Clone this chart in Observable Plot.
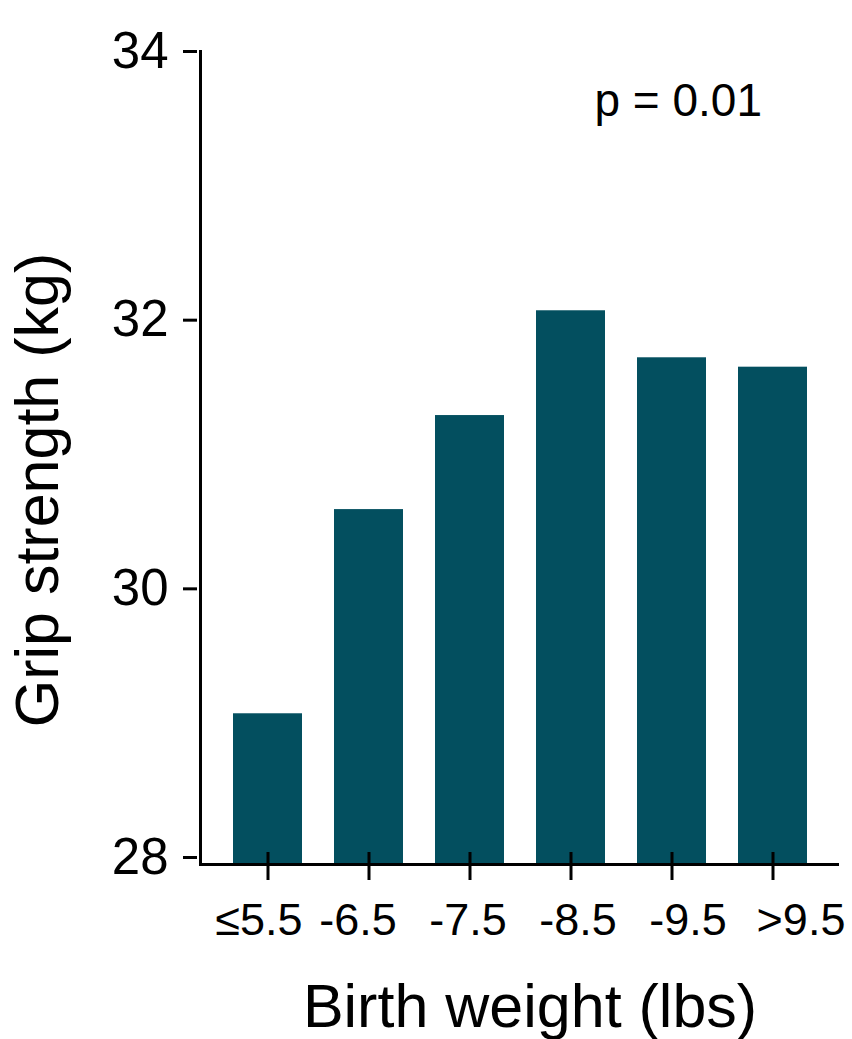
<!DOCTYPE html>
<html><head><meta charset="utf-8">
<script src="https://cdn.jsdelivr.net/npm/d3@7"></script>
<script src="https://cdn.jsdelivr.net/npm/@observablehq/plot@0.6"></script>
<style>body{margin:0;background:#fff;} svg{display:block}</style>
</head><body><div id="chart"></div>
<script>
const categories = ["≤5.5", "-6.5", "-7.5", "-8.5", "-9.5", ">9.5"];
const values = [29.07, 30.59, 31.29, 32.07, 31.72, 31.65];
const yTicks = [28, 30, 32, 34];
const pLabel = "p = 0.01";
const xTitle = "Birth weight (lbs)";
const yTitle = "Grip strength (kg)";
const yMin = 27.948, yMax = 34;
const data = categories.map((c, i) => ({cat: c, value: values[i]}));
// horizontal nudges of the tick labels relative to their ticks (as in the reference)
const labelNudge = [-9, -11, -2, 7, 16, 28];
const font = "'Liberation Sans', Arial, sans-serif";
const chart = Plot.plot({
  width: 852, height: 1039,
  marginLeft: 200, marginRight: 13, marginTop: 51, marginBottom: 175,
  style: {fontFamily: font, background: "#fff", color: "#000"},
  x: {domain: categories, padding: 0.32, axis: null},
  y: {domain: [yMin, yMax], axis: null},
  marks: [
    Plot.barY(data, {x: "cat", y1: yMin, y2: "value", fill: "#034f5f"}),
    Plot.ruleY([yMin], {stroke: "#000", strokeWidth: 3}),
    Plot.frame({anchor: "left", stroke: "#000", strokeWidth: 3}),
    Plot.axisY({ticks: yTicks, tickFormat: d => String(d), tickSize: 14, tickPadding: 15, dx: -3, fontSize: 51, strokeWidth: 3, label: null}),
    Plot.axisX({tickSize: 28, dy: -12, tickFormat: () => "", strokeWidth: 3, label: null}),
    ...categories.map((c, i) => Plot.text([c], {
      x: d => d, text: d => d, frameAnchor: "bottom", textAnchor: "middle", lineAnchor: "top",
      dx: labelNudge[i], dy: 39, fontSize: 45, fill: "#000"
    })),
    Plot.text([xTitle], {text: d => d, frameAnchor: "bottom", textAnchor: "middle", dx: 10, dy: 143, fontSize: 61, lineAnchor: "middle", fill: "#000"}),
    Plot.text([yTitle], {text: d => d, frameAnchor: "left", textAnchor: "middle", lineAnchor: "middle", rotate: -90, dx: -162, dy: 32, fontSize: 61, fill: "#000"}),
    Plot.text([pLabel], {text: d => d, frameAnchor: "top-left", textAnchor: "start", lineAnchor: "middle", dx: 394, dy: 50, fontSize: 46, fill: "#000"})
  ]
});
document.getElementById("chart").appendChild(chart);
</script>
</body></html>
